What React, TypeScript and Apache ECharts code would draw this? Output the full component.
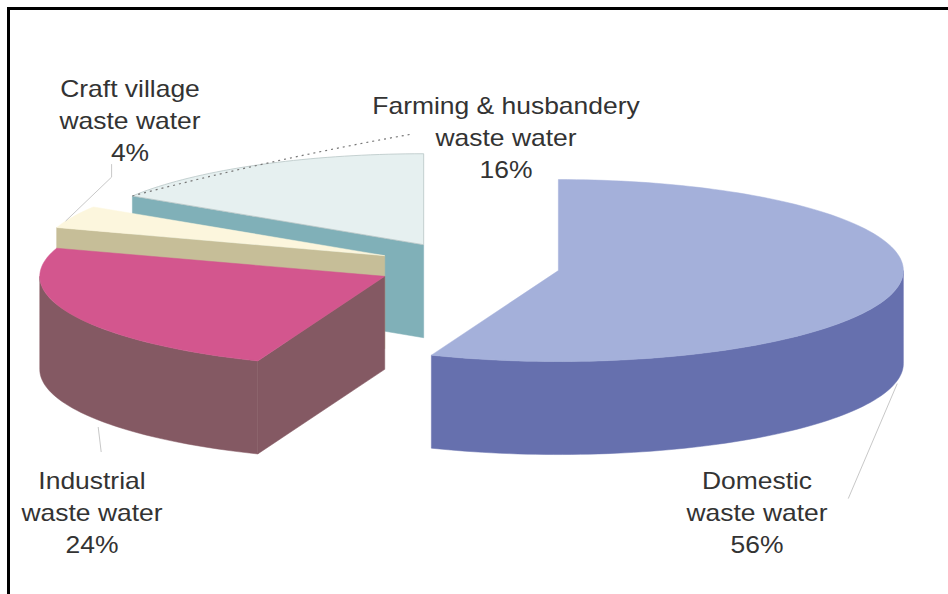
import React, { useEffect, useRef } from "react";
import * as echarts from "echarts";

// ---- data ----
const categories = ["Domestic", "Industrial", "Craft village", "Farming & husbandery"];
const nameSuffix = "waste water";
const shares = [56, 24, 4, 16];

// ---- styling ----
const topColors = ["#a4b0da", "#d3568e", "#fcf6dd", "#e6f0f0"];
const sideColors = ["#6670ae", "#845963", "#c6be98", "#80b0b8"];
const labelAnchors: number[][] = [
  [757, 465],
  [92, 465],
  [130, 73],
  [506, 90],
];

// pie geometry (pixels)
const PIE = { cx: 468, cy: 266, rx: 345, ry: 91, h: 93, explode: 92 };

// leader lines: angle fraction inside slice, level, gap, offsets from start point
const leaders = [
  { frac: 0.5, bottom: true, gap: 3, pts: [[-49, 115]], dashed: false, curve: false },
  { frac: 0.4, bottom: true, gap: 7, pts: [[3, 25]], dashed: false, curve: false },
  { frac: 0.3, bottom: false, gap: 0, pts: [[46, -44], [46, -57]], dashed: false, curve: false },
  { frac: 0, bottom: false, gap: 0, pts: [[280, -62]], dashed: true, curve: true },
];

const rad = (d: number) => (d * Math.PI) / 180;

function sliceAngles() {
  const total = shares.reduce((a, b) => a + b, 0);
  let acc = 0;
  return shares.map((v) => {
    const a0 = (acc / total) * 360;
    acc += v;
    const a1 = (acc / total) * 360;
    return [a0, a1];
  });
}

export default function App() {
  const ref = useRef<HTMLDivElement>(null);
  useEffect(() => {
    if (!ref.current) return;
    const chart = echarts.init(ref.current, undefined, { renderer: "svg" });
    const angles = sliceAngles();
    const k = PIE.ry / PIE.rx;
    const centers = angles.map(([a0, a1]) => {
      const mid = (a0 + a1) / 2;
      return [
        PIE.cx + PIE.explode * Math.sin(rad(mid)),
        PIE.cy - PIE.explode * Math.cos(rad(mid)) * k,
      ];
    });
    const order = centers
      .map((c, i) => ({ i, y: c[1] }))
      .sort((a, b) => a.y - b.y)
      .map((o) => o.i);
    const rank: number[] = [];
    order.forEach((idx, r) => (rank[idx] = r));

    const renderItem = (params: any, api: any) => {
      const i = params.dataIndex;
      const [a0, a1] = angles[i];
      const [ox, oy] = centers[i];
      const P = (a: number, dz = 0) => [
        ox + PIE.rx * Math.sin(rad(a)),
        oy - PIE.ry * Math.cos(rad(a)) + dz,
      ];
      const arc = (b0: number, b1: number, dz = 0) => {
        const n = Math.max(6, Math.ceil((b1 - b0) / 1.5));
        const pts: number[][] = [];
        for (let j = 0; j <= n; j++) pts.push(P(b0 + ((b1 - b0) * j) / n, dz));
        return pts;
      };
      const base = rank[i] * 10 + 10;
      const children: any[] = [];
      // outer curved wall (front-facing part)
      const w0 = Math.max(a0, 90);
      const w1 = Math.min(a1, 270);
      if (w1 > w0) {
        const top = arc(w0, w1);
        const bot = arc(w0, w1, PIE.h).reverse();
        children.push({
          type: "polygon",
          z2: base + 1,
          shape: { points: top.concat(bot) },
          style: { fill: sideColors[i], stroke: sideColors[i], lineWidth: 0.5 },
        });
      }
      const inFront = (a: number) => {
        const m = ((a % 360) + 360) % 360;
        return m;
      };
      // start radial face
      const s = inFront(a0);
      if (s > 180 && s < 360) {
        const p = P(a0);
        children.push({
          type: "polygon",
          z2: base + 1,
          shape: { points: [[ox, oy], p, [p[0], p[1] + PIE.h], [ox, oy + PIE.h]] },
          style: { fill: sideColors[i], stroke: sideColors[i], lineWidth: 0.5 },
        });
      }
      const e = inFront(a1);
      if (e > 0 && e < 180) {
        const p = P(a1);
        children.push({
          type: "polygon",
          z2: base + 1,
          shape: { points: [[ox, oy], p, [p[0], p[1] + PIE.h], [ox, oy + PIE.h]] },
          style: { fill: sideColors[i], stroke: sideColors[i], lineWidth: 0.5 },
        });
      }
      // top face
      children.push({
        type: "polygon",
        z2: base + 2,
        shape: { points: [[ox, oy]].concat(arc(a0, a1)) },
        style: {
          fill: topColors[i],
          stroke: i === 3 ? "#b9c6c6" : topColors[i],
          lineWidth: i === 3 ? 0.8 : 0.5,
        },
      });
      // leader line
      const L = leaders[i];
      const la = a0 + (a1 - a0) * L.frac;
      const sp = P(la, L.bottom ? PIE.h + L.gap : 0);
      const pts = [sp].concat(L.pts.map((d) => [sp[0] + d[0], sp[1] + d[1]]));
      if (L.curve) {
        const end = pts[pts.length - 1];
        children.push({
          type: "bezierCurve",
          z2: 100,
          shape: {
            x1: sp[0],
            y1: sp[1],
            x2: end[0],
            y2: end[1],
            cpx1: (sp[0] + end[0]) / 2,
            cpy1: (sp[1] + end[1]) / 2 - 6,
          },
          style: { stroke: "#777", lineWidth: 1.2, lineDash: [2, 4], fill: null },
        });
      } else {
        children.push({
          type: "polyline",
          z2: 100,
          shape: { points: pts },
          style: { stroke: "#c8c8c8", lineWidth: 1, fill: null },
        });
      }
      return { type: "group", children };
    };

    const labelGraphics = categories.map((c, i) => ({
      type: "text",
      x: labelAnchors[i][0],
      y: labelAnchors[i][1],
      scaleX: 1.15,
      z: 100,
      style: {
        text: `${c}\n${nameSuffix}\n${shares[i]}%`,
        fontFamily: "Liberation Sans, Arial, sans-serif",
        fontSize: 23,
        lineHeight: 32,
        textAlign: "center",
        textVerticalAlign: "top",
        fill: "#333333",
      },
    }));

    chart.setOption({
      animation: false,
      backgroundColor: "#ffffff",
      graphic: [
        {
          type: "line",
          z: 100,
          shape: { x1: 7, y1: 8.5, x2: 948, y2: 8.5 },
          style: { stroke: "#000", lineWidth: 3 },
        },
        {
          type: "line",
          z: 100,
          shape: { x1: 8.5, y1: 7, x2: 8.5, y2: 594 },
          style: { stroke: "#000", lineWidth: 3 },
        },
        ...labelGraphics,
      ],
      series: [
        {
          type: "custom",
          coordinateSystem: "none",
          renderItem,
          data: shares.map((v, i) => [i, v]),
          silent: true,
        },
      ],
    });
    return () => chart.dispose();
  }, []);
  return (
    <div
      ref={ref}
      style={{ position: "absolute", left: 0, top: 0, width: 948, height: 594 }}
    />
  );
}
